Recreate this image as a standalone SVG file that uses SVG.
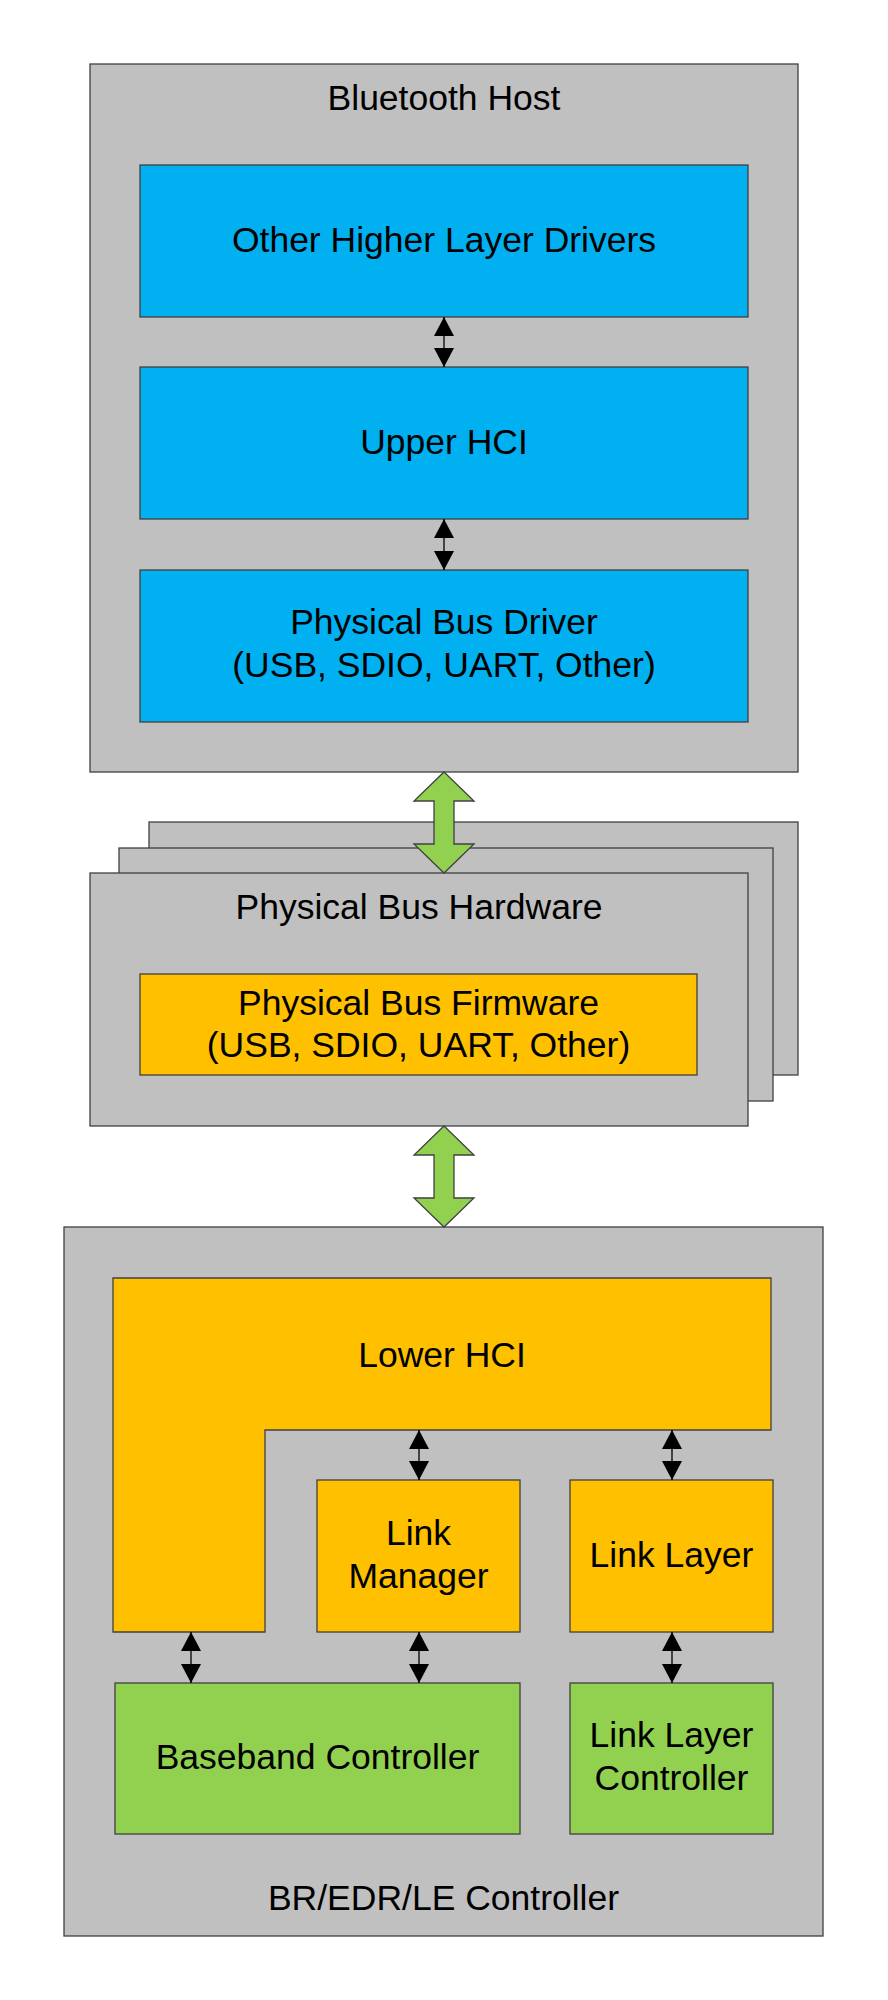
<svg xmlns="http://www.w3.org/2000/svg" width="888" height="2000" viewBox="0 0 888 2000">
<style>
.box{stroke:#404040;stroke-width:1.3}
.gray{fill:#C0C0C0}
.blue{fill:#00B0F0}
.orange{fill:#FFC000}
.green{fill:#92D050}
text{font-family:"Liberation Sans",Arial,sans-serif;font-size:35.5px;fill:#000;text-anchor:middle}
.conn{stroke:#000;stroke-width:1.3;fill:none;marker-start:url(#ah);marker-end:url(#ah)}
.big{fill:#92D050;stroke:#404040;stroke-width:1.3}
</style>
<defs>
<marker id="ah" viewBox="0 0 19 20" refX="19" refY="10" markerWidth="19" markerHeight="20" markerUnits="userSpaceOnUse" orient="auto-start-reverse">
<path d="M0,0 L19,10 L0,20 Z" fill="#000"/>
</marker>
</defs>
<rect width="888" height="2000" fill="#fff"/>

<g id="host">
<rect class="box gray" x="90" y="64" width="708" height="708"/>
<text x="444" y="110">Bluetooth Host</text>
</g>
<g id="other-higher-layer-drivers">
<rect class="box blue" x="140" y="165" width="608" height="152"/>
<text x="444" y="252">Other Higher Layer Drivers</text>
</g>
<g id="upper-hci">
<rect class="box blue" x="140" y="367" width="608" height="152"/>
<text x="444" y="454">Upper HCI</text>
</g>
<g id="physical-bus-driver">
<rect class="box blue" x="140" y="570" width="608" height="152"/>
<text x="444" y="634">Physical Bus Driver</text>
<text x="444" y="677">(USB, SDIO, UART, Other)</text>
</g>

<g id="physical-bus-hardware">
<rect class="box gray" x="149" y="822" width="649" height="253"/>
<rect class="box gray" x="119" y="848" width="654" height="253"/>
<rect class="box gray" x="90" y="873" width="658" height="253"/>
<text x="419" y="919">Physical Bus Hardware</text>
</g>
<g id="physical-bus-firmware">
<rect class="box orange" x="140" y="974" width="557" height="101"/>
<text x="418.5" y="1015">Physical Bus Firmware</text>
<text x="418.5" y="1057">(USB, SDIO, UART, Other)</text>
</g>

<g id="controller">
<rect class="box gray" x="64" y="1227" width="759" height="709"/>
<text x="443.5" y="1910">BR/EDR/LE Controller</text>
</g>
<g id="lower-hci">
<path class="box orange" d="M113,1278 H771 V1430 H265 V1632 H113 Z"/>
<text x="442" y="1367">Lower HCI</text>
</g>
<g id="link-manager">
<rect class="box orange" x="317" y="1480" width="203" height="152"/>
<text x="418.5" y="1545">Link</text>
<text x="418.5" y="1588">Manager</text>
</g>
<g id="link-layer">
<rect class="box orange" x="570" y="1480" width="203" height="152"/>
<text x="671.5" y="1567">Link Layer</text>
</g>
<g id="baseband-controller">
<rect class="box green" x="115" y="1683" width="405" height="151"/>
<text x="317.5" y="1769">Baseband Controller</text>
</g>
<g id="link-layer-controller">
<rect class="box green" x="570" y="1683" width="203" height="151"/>
<text x="671.5" y="1747">Link Layer</text>
<text x="671.5" y="1790">Controller</text>
</g>

<g id="connectors">
<line class="conn" x1="444" y1="317" x2="444" y2="367"/>
<line class="conn" x1="444" y1="519" x2="444" y2="570"/>
<polygon class="big" points="444,772 474,801 454,801 454,844 474,844 444,873 414,844 434,844 434,801 414,801"/>
<polygon class="big" points="444,1126 474,1155 454,1155 454,1198 474,1198 444,1227 414,1198 434,1198 434,1155 414,1155"/>
<line class="conn" x1="419" y1="1430" x2="419" y2="1480"/>
<line class="conn" x1="672" y1="1430" x2="672" y2="1480"/>
<line class="conn" x1="191" y1="1632" x2="191" y2="1683"/>
<line class="conn" x1="419" y1="1632" x2="419" y2="1683"/>
<line class="conn" x1="672" y1="1632" x2="672" y2="1683"/>
</g>
</svg>
